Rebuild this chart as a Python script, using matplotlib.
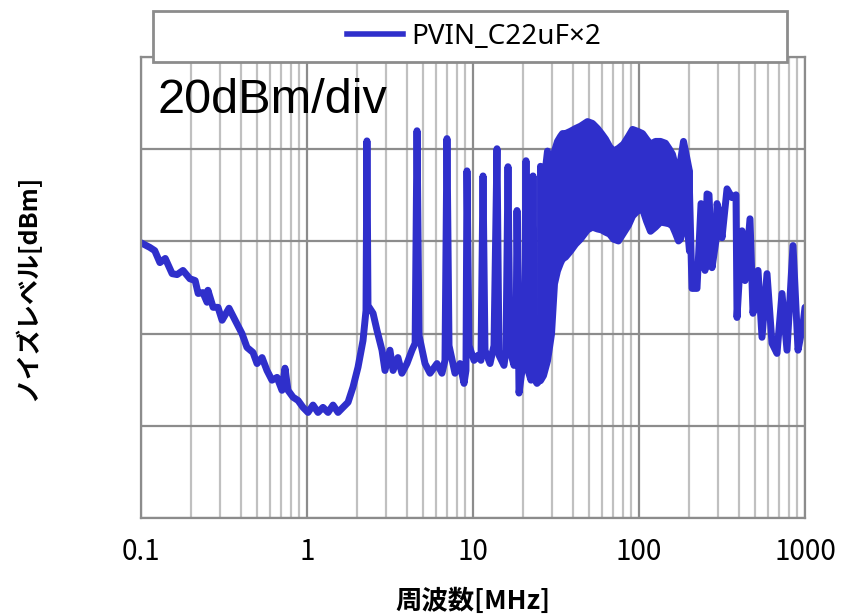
import matplotlib
matplotlib.use("Agg")
import matplotlib.pyplot as plt
from matplotlib.lines import Line2D
from matplotlib.patches import Rectangle
from matplotlib.ticker import FixedLocator, LogLocator, NullFormatter

plt.rcParams['font.family'] = ['Noto Sans CJK JP', 'DejaVu Sans']

# 0.1 - 25 MHz: slope, first resonance and the switching harmonics
freq_lo = [0.100, 0.113, 0.121, 0.130, 0.140, 0.154, 0.165, 0.179, 0.197, 0.212,
           0.221, 0.236, 0.250, 0.253, 0.272, 0.291, 0.308, 0.339, 0.369, 0.406,
           0.435, 0.473, 0.500, 0.536, 0.574, 0.615, 0.660, 0.707, 0.737, 0.768,
           0.824, 0.883, 0.946, 1.014, 1.087, 1.165, 1.248, 1.339, 1.435, 1.538,
           1.648, 1.767, 1.893, 2.029, 2.175, 2.267, 2.297, 2.330, 2.50, 2.64,
           2.83, 2.95, 3.16, 3.30, 3.53, 3.73, 4.00, 4.29, 4.48, 4.60,
           4.73, 5.14, 5.51, 6.07, 6.50, 6.78, 6.97, 7.17, 7.79, 8.35,
           8.83, 9.07, 9.20, 9.46, 10.14, 10.72, 11.17, 11.49, 11.81, 12.66,
           13.38, 13.95, 14.34, 15.37, 15.80, 16.25, 16.71, 17.66, 18.16, 18.41,
           18.93, 19.73, 20.29, 20.86, 21.45, 22.36, 22.99, 23.63, 24.29, 25.33]
level_lo = [-60.3, -61.3, -62.0, -64.6, -63.7, -67.0, -67.2, -66.3, -68.1, -68.5,
            -71.3, -71.1, -73.2, -70.6, -74.3, -74.3, -77.1, -74.5, -77.1, -80.0,
            -83.0, -84.1, -86.5, -85.2, -88.0, -90.1, -89.5, -92.3, -87.5, -92.3,
            -93.8, -94.5, -96.0, -97.1, -95.5, -97.1, -96.0, -97.1, -95.5, -97.1,
            -96.0, -94.9, -91.6, -87.3, -81.5, -75.0, -38.2, -73.9, -75.6, -79.3,
            -83.6, -88.0, -83.6, -88.0, -85.2, -88.6, -86.5, -83.6, -82.1, -36.0,
            -80.4, -86.5, -88.6, -86.5, -88.6, -85.8, -37.7, -82.6, -88.6, -86.5,
            -90.8, -88.0, -44.7, -82.6, -85.8, -84.7, -85.8, -45.8, -83.6, -86.5,
            -82.6, -39.9, -84.7, -86.9, -83.6, -43.8, -83.6, -86.9, -83.6, -53.3,
            -92.9, -88.0, -84.7, -42.5, -88.0, -90.1, -45.8, -90.1, -90.8, -90.1]

# 25 - 200 MHz: harmonics too dense to separate, drawn as a band
band_freq = [25.33, 26.41, 27.91, 29.51, 30.76, 32.06, 33.43, 34.37, 35.83, 38.4,
             41.17, 44.1, 48.61, 52.1, 55.85, 59.04, 62.41, 66.0, 69.7, 74.7,
             80.1, 85.8, 90.8, 97.3, 104.3, 110.2, 116.5, 124.8, 133.8, 143.4,
             151.6, 158.0, 164.7, 171.8, 176.6, 184.1, 191.9, 200.0]
band_top = [-43.6, -47.9, -40.3, -50.5, -40.3, -38.2, -37.1, -36.5, -36.5, -36.0,
            -35.4, -34.9, -33.9, -34.3, -35.4, -36.5, -37.7, -39.3, -40.3, -39.7,
            -38.8, -37.1, -35.6, -36.0, -36.5, -37.7, -38.8, -38.2, -38.2, -38.6,
            -39.9, -41.0, -43.6, -58.5, -42.5, -38.2, -41.4, -44.7]
band_bottom = [-90.1, -89.0, -85.8, -80.0, -69.1, -66.3, -64.6, -63.7, -63.3, -62.0,
               -60.5, -59.4, -57.4, -56.8, -57.2, -57.4, -57.9, -58.3, -59.4, -59.8,
               -58.1, -56.4, -54.4, -53.3, -52.9, -55.5, -57.7, -56.8, -55.7, -55.9,
               -56.1, -56.6, -58.1, -59.8, -59.4, -56.6, -54.4, -62.0]

# 200 - 1000 MHz
freq_hi = [200.0, 208.6, 223.6, 236.4, 249.8, 256.9, 264.1, 275.3, 291.0, 295.1,
           303.4, 316.2, 339.0, 363.3, 384.0, 389.4, 417.4, 435.1, 466.3, 486.1,
           521.2, 550.8, 590.4, 632.7, 678.2, 726.8, 779.1, 846.8, 907.6, 972.7,
           1000.0]
level_hi = [-44.7, -70.2, -70.2, -51.8, -66.3, -49.7, -49.9, -65.7, -59.8, -51.8,
            -53.5, -59.2, -48.6, -50.5, -49.9, -76.5, -57.7, -68.5, -55.1, -75.6,
            -66.3, -80.8, -67.0, -82.1, -84.3, -71.3, -83.6, -60.9, -83.6, -78.0,
            -74.3]

x_ticks = [0.1, 1, 10, 100, 1000]
x_tick_labels = ["0.1", "1", "10", "100", "1000"]
y_ticks = [-120, -100, -80, -60, -40, -20]

series_name = "PVIN_C22uF×2"
color = "#2f2fcb"
grid_dark = "#8c8c8c"
grid_light = "#c0c0c0"

fig = plt.figure(figsize=(8.41, 6.16), dpi=100)
ax = fig.add_axes([141 / 841, 98 / 616, 664 / 841, 461 / 616])

ax.set_xscale('log')
ax.set_xlim(0.1, 1000)
ax.set_ylim(-120, -20)
ax.xaxis.set_major_locator(FixedLocator(x_ticks))
ax.set_xticklabels(x_tick_labels)
ax.xaxis.set_minor_locator(LogLocator(base=10, subs=range(2, 10)))
ax.xaxis.set_minor_formatter(NullFormatter())
ax.set_yticks(y_ticks)
ax.set_yticklabels([])
ax.tick_params(which='both', length=0)
ax.tick_params(axis='x', labelsize=20, pad=14)

ax.grid(which='major', color=grid_dark, lw=1.6)
ax.grid(which='minor', axis='x', color=grid_light, lw=1.6)
ax.set_axisbelow(True)
for s in ax.spines.values():
    s.set_color(grid_dark)
    s.set_linewidth(1.6)

lw = 5
ax.plot(freq_lo, level_lo, color=color, lw=lw,
        solid_joinstyle='round', solid_capstyle='round')
ax.fill_between(band_freq, band_bottom, band_top, color=color, lw=lw,
                joinstyle='round')
ax.plot(freq_hi, level_hi, color=color, lw=lw,
        solid_joinstyle='round', solid_capstyle='round')

ax.text(17 / 664, 405 / 461, "20dBm/div", transform=ax.transAxes,
        fontsize=35, family=['Liberation Sans', 'DejaVu Sans'],
        va='baseline', ha='left')

fig.text(473 / 841, 1 - 601 / 616, "周波数[MHz]", fontsize=19,
         fontweight='bold', ha='center', va='center')
fig.text(27 / 841, 1 - 288 / 616, "ノイズレベル[dBm]", fontsize=18,
         fontweight='bold', ha='center', va='center', rotation=90)

# legend box sits over the top edge of the plot
fig.add_artist(Rectangle((153 / 841, 1 - 62 / 616), 634 / 841, 51 / 616,
                         transform=fig.transFigure, facecolor='white',
                         edgecolor=grid_dark, lw=2, zorder=3))
leg = fig.legend(handles=[Line2D([], [], color=color, lw=4)], labels=[series_name],
                 loc='center', bbox_to_anchor=(474 / 841, 1 - 37 / 616),
                 frameon=False, handlelength=2.0, handletextpad=0.3, borderpad=0,
                 prop={'family': ['Noto Sans', 'DejaVu Sans'], 'size': 20})
leg.set_zorder(5)

fig.savefig("out.png", dpi=100)
